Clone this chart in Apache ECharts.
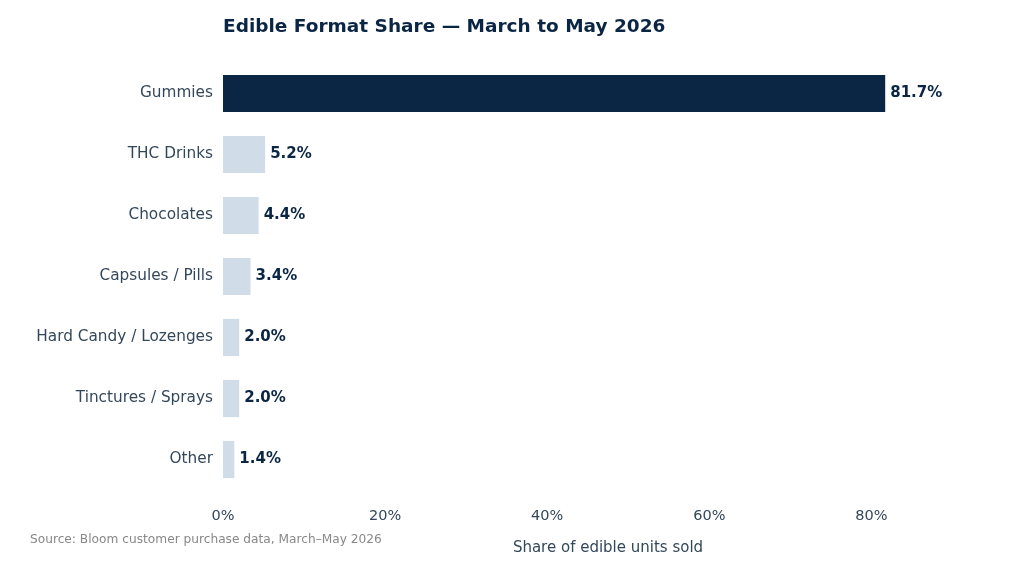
<!DOCTYPE html>
<html>
<head>
<meta charset="utf-8">
<script src="https://cdn.jsdelivr.net/npm/echarts@6/dist/echarts.min.js"></script>
<style>
html,body{margin:0;padding:0;background:#fff;}
#chart{width:1024px;height:576px;}
</style>
</head>
<body>
<div id="chart"></div>
<script>
const categories = ["Gummies", "THC Drinks", "Chocolates", "Capsules / Pills", "Hard Candy / Lozenges", "Tinctures / Sprays", "Other"];
const shares = [81.7, 5.2, 4.4, 3.4, 2.0, 2.0, 1.4];
const tickValues = [0, 20, 40, 60, 80];

const FONT = "DejaVu Sans";
const chart = echarts.init(document.getElementById('chart'));
chart.setOption({
  backgroundColor: '#ffffff',
  animation: false,
  title: {
    text: 'Edible Format Share — March to May 2026',
    left: 218, top: 13,
    textStyle: {fontFamily: FONT, fontSize: 18.5, fontWeight: 'bold', color: '#0b2545'}
  },
  graphic: [{
    type: 'text', left: 30, top: 534,
    style: {text: 'Source: Bloom customer purchase data, March–May 2026', font: '12.2px "DejaVu Sans"', fill: '#888888'}
  }],
  grid: {left: 223, right: 31, top: 63, bottom: 86, containLabel: false},
  xAxis: {
    type: 'value', min: 0, max: 95, interval: 20,
    axisLine: {show: false}, axisTick: {show: false}, splitLine: {show: false},
    axisLabel: {
      fontFamily: FONT, fontSize: 14.5, color: '#33475b', margin: 19,
      formatter: v => tickValues.includes(v) ? v + '%' : ''
    },
    name: 'Share of edible units sold', nameLocation: 'middle', nameGap: 51,
    nameTextStyle: {fontFamily: FONT, fontSize: 15, color: '#33475b'}
  },
  yAxis: {
    type: 'category', data: categories, inverse: true,
    axisLine: {show: false}, axisTick: {show: false},
    axisLabel: {fontFamily: FONT, fontSize: 15.3, color: '#33475b', margin: 10}
  },
  series: [{
    type: 'bar',
    data: shares.map((v, i) => ({value: v, itemStyle: {color: i === 0 ? '#0b2545' : '#d0dce8'}})),
    barWidth: '61%',
    label: {
      show: true, position: 'right', distance: 5,
      fontFamily: FONT, fontSize: 15, fontWeight: 'bold', color: '#0b2545',
      formatter: p => p.value.toFixed(1) + '%'
    }
  }]
});
</script>
</body>
</html>
